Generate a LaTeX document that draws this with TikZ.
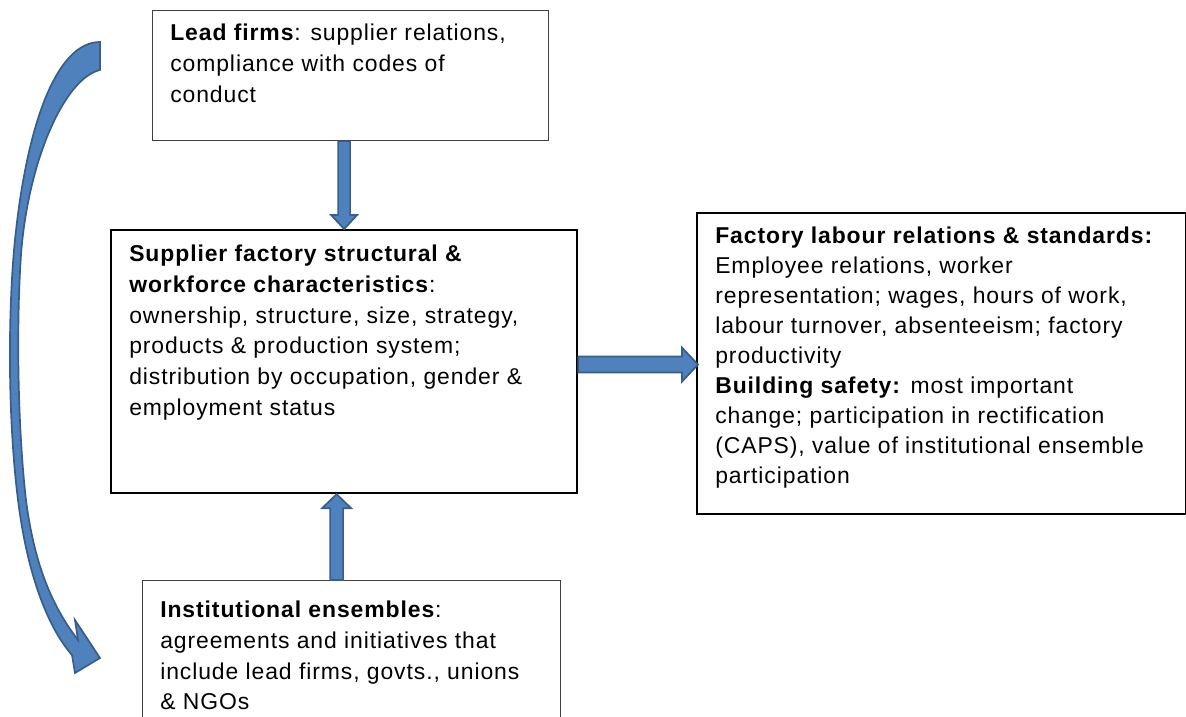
\documentclass[tikz,border=0pt]{standalone}
\usepackage{fontspec}
\setmainfont{Liberation Sans}[LetterSpace=4]
\usepackage{tikz}
\usetikzlibrary{positioning,calc}
\definecolor{arrowblue}{RGB}{79,129,189}
\definecolor{arrowedge}{RGB}{56,93,138}

\tikzset{
  thinbox/.style={draw=black!75, line width=0.8pt, anchor=north west, inner sep=0pt},
  thickbox/.style={draw=black, line width=1.5pt, anchor=north west, inner sep=0pt},
  boxtext/.style={inner sep=0pt, align=left, font=\fontsize{16.3}{21.8}\selectfont},
  blockarrow/.style={fill=arrowblue, draw=arrowedge, line width=1.2pt, line join=miter},
}

\begin{document}
\begin{tikzpicture}[x=0.025cm, y=-0.025cm]
	\useasboundingbox (0,0) rectangle (1186,717);
	\clip (0,0) rectangle (1186,717);
	% boxes
	\node[thinbox, minimum width=9.9cm, minimum height=3.25cm] (lead) at (152,10) {};
	\node[thickbox, minimum width=11.65cm, minimum height=6.575cm] (supp) at (110,229) {};
	\node[thickbox, minimum width=12.225cm, minimum height=7.525cm] (fact) at (696,212) {};
	\node[thinbox, minimum width=10.45cm, minimum height=3.875cm] (inst) at (142,580) {};
	% texts
	\node[boxtext, below right=0.35cm and 0.45cm of lead.north west] (leadtxt)
		{\textbf{Lead firms}: supplier relations,\\ compliance with codes of\\ conduct};
	\node[boxtext, below right=0.4cm and 0.475cm of supp.north west] (supptxt)
		{\textbf{Supplier factory structural \&}\\ \textbf{workforce characteristics}:\\ ownership, structure, size, strategy,\\ products \& production system;\\ distribution by occupation, gender \&\\ employment status};
	\node[boxtext, font=\fontsize{16.3}{21.3}\selectfont, below right=0.375cm and 0.475cm of fact.north west] (facttxt)
		{\textbf{Factory labour relations \& standards:}\\ Employee relations, worker\\ representation; wages, hours of work,\\ labour turnover, absenteeism; factory\\ productivity\\ \textbf{Building safety:} most important\\ change; participation in rectification\\ (CAPS), value of institutional ensemble\\ participation};
	\node[boxtext, below right=0.525cm and 0.45cm of inst.north west] (insttxt)
		{\textbf{Institutional ensembles}:\\ agreements and initiatives that\\ include lead firms, govts., unions\\ \& NGOs};
	% block arrows
	\coordinate (dtop) at (supp.north |- lead.south);
	\draw[blockarrow] ($(dtop)+(-6,0)$) -- ($(supp.north)+(-6,-14)$) -- ($(supp.north)+(-13,-14)$) -- (supp.north)
		-- ($(supp.north)+(13,-14)$) -- ($(supp.north)+(6,-14)$) -- ($(dtop)+(6,0)$) -- cycle;
	\coordinate (ubot) at ($(inst.north)+(-15,0)$);
	\coordinate (utip) at (ubot |- supp.south);
	\draw[blockarrow] ($(ubot)+(-6.5,0)$) -- ($(utip)+(-6.5,14)$) -- ($(utip)+(-14.5,14)$) -- (utip)
		-- ($(utip)+(14.5,14)$) -- ($(utip)+(6.5,14)$) -- ($(ubot)+(6.5,0)$) -- cycle;
	\coordinate (rstart) at ($(supp.east)+(0,3)$);
	\coordinate (rtip) at ($(fact.west |- rstart)+(2,0)$);
	\draw[blockarrow] ($(rstart)+(0,-8)$) -- ($(rtip)+(-16,-8)$) -- ($(rtip)+(-16,-17)$) -- (rtip)
		-- ($(rtip)+(-16,17)$) -- ($(rtip)+(-16,8)$) -- ($(rstart)+(0,8)$) -- cycle;
	% curved arrow from lead firms down to the ensembles
	\draw[blockarrow] (100,42) .. controls (55,42) and (25,130) .. (14,250)
		.. controls (8,320) and (8,420) .. (18,500)
		.. controls (28,580) and (50,630) .. (72,655)
		-- (75,673) -- (100,658) -- (75,620) -- (78,640)
		.. controls (55,610) and (35,570) .. (26,500)
		.. controls (18,430) and (16,330) .. (21,255)
		.. controls (28,160) and (65,78) .. (100,70) -- cycle;
\end{tikzpicture}
\end{document}
